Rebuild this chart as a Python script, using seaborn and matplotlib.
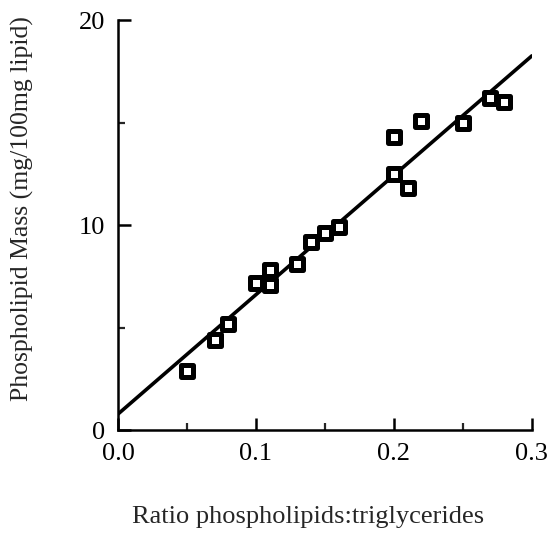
import matplotlib.pyplot as plt
import pandas as pd
import seaborn as sns
from matplotlib.ticker import MultipleLocator, FormatStrFormatter

# values
ratio = [0.05, 0.07, 0.08, 0.10, 0.11, 0.11, 0.13, 0.14, 0.15, 0.16,
         0.20, 0.20, 0.21, 0.22, 0.25, 0.27, 0.28]
mass = [2.9, 4.4, 5.2, 7.2, 7.1, 7.8, 8.1, 9.2, 9.6, 9.9,
        14.3, 12.5, 11.8, 15.1, 15.0, 16.2, 16.0]

df = pd.DataFrame({"ratio": ratio, "mass": mass})

sns.set_style("ticks")
plt.rcParams["font.family"] = ["Liberation Serif", "DejaVu Serif"]

fig = plt.figure(figsize=(5.5, 5.35), dpi=100)
ax = fig.add_axes([0.2145, 0.196, 0.7525, 0.7665])
ax.set_xlim(0, 0.3)
ax.set_ylim(0, 20)

# regression line across the whole x range, hollow square markers
sns.regplot(data=df, x="ratio", y="mass", ax=ax, ci=None, truncate=False,
            marker="s",
            scatter_kws={"s": 68, "facecolors": "white", "edgecolors": "black",
                         "linewidths": 3.6, "alpha": 1, "zorder": 3},
            line_kws={"color": "black", "lw": 2.6})

ax.set_xlim(0, 0.3)
ax.set_ylim(0, 20)
sns.despine(ax=ax)
for s in ["left", "bottom"]:
    ax.spines[s].set_linewidth(1.8)
    ax.spines[s].set_color("black")

ax.xaxis.set_major_locator(MultipleLocator(0.1))
ax.xaxis.set_minor_locator(MultipleLocator(0.05))
ax.xaxis.set_major_formatter(FormatStrFormatter("%.1f"))
ax.yaxis.set_major_locator(MultipleLocator(10))
ax.yaxis.set_minor_locator(MultipleLocator(5))
ax.tick_params(which="major", direction="in", length=9, width=1.8,
               labelsize=19, colors="black")
ax.tick_params(which="minor", direction="in", length=5, width=1.6)
ax.tick_params(axis="x", which="major", pad=9)
ax.tick_params(axis="y", which="major", pad=9)

ax.set_xlabel("Ratio phospholipids:triglycerides", fontsize=19)
ax.set_ylabel("Phospholipid Mass (mg/100mg lipid)", fontsize=18.5)
ax.xaxis.set_label_coords(0.459, -0.185)
ax.yaxis.set_label_coords(-0.203, 0.54)

fig.savefig("out.png", dpi=100)
